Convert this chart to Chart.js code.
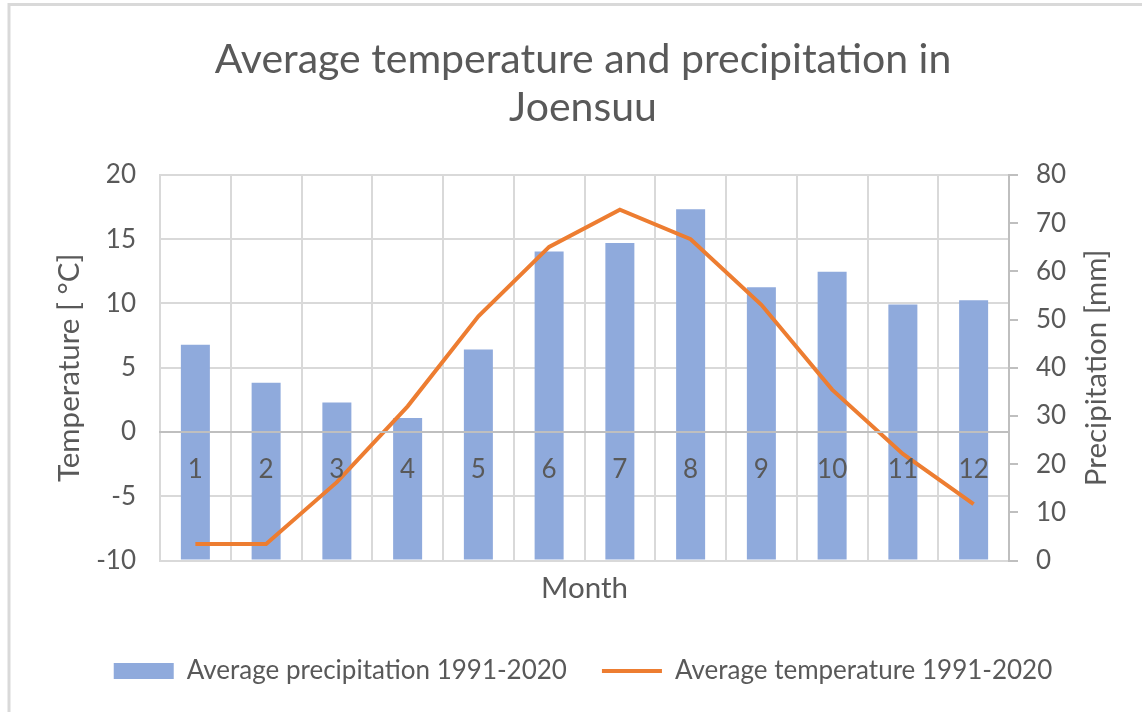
<!DOCTYPE html>
<html>
<head>
<meta charset="utf-8">
<script src="https://cdn.jsdelivr.net/npm/chart.js@4/dist/chart.umd.min.js"></script>
<style>
  html, body { margin: 0; padding: 0; background: #fff; }
  #wrap { width: 1142px; height: 712px; }
</style>
</head>
<body>
<div id="wrap"><canvas id="climateChart" width="1142" height="712"></canvas></div>
<script>
// --- data ---
const months = ['1', '2', '3', '4', '5', '6', '7', '8', '9', '10', '11', '12'];
const precipitation = [44.8, 36.9, 32.8, 29.6, 43.8, 64.1, 65.9, 72.9, 56.7, 59.9, 53.1, 54.0];
const temperature = [-8.7, -8.7, -3.9, 2.0, 9.0, 14.4, 17.3, 15.0, 9.9, 3.3, -1.7, -5.6];
const chartTitle = ['Average temperature and precipitation in', 'Joensuu'];
const precipLabel = 'Average precipitation 1991-2020';
const tempLabel = 'Average temperature 1991-2020';

const TEXT = '#595959';
const GRID = '#d9d9d9';
const AXIS = '#bfbfbf';
const BAR = '#8faadc';
const LINE = '#ed7d31';
const FONT = 'Lato';

// 흰 배경 + 바깥 테두리, 오른쪽 축 제목(아래->위 방향)
const framePlugin = {
    id: 'frame',
    beforeDraw(chart) {
        const ctx = chart.ctx;
        ctx.save();
        ctx.fillStyle = '#fff';
        ctx.fillRect(0, 0, chart.width, chart.height);
        ctx.strokeStyle = GRID;
        ctx.lineWidth = 3;
        ctx.beginPath();
        ctx.moveTo(9, chart.height);
        ctx.lineTo(9, 4.5);
        ctx.lineTo(chart.width, 4.5);
        ctx.stroke();
        ctx.restore();
    },
    afterDraw(chart) {
        const ctx = chart.ctx;
        const area = chart.chartArea;
        ctx.save();
        ctx.fillStyle = TEXT;
        ctx.font = '29.5px ' + FONT;
        ctx.textAlign = 'center';
        ctx.textBaseline = 'middle';
        ctx.translate(1096, (area.top + area.bottom) / 2);
        ctx.rotate(-Math.PI / 2);
        ctx.fillText('Precipitation [mm]', 0, 0);
        ctx.restore();
    }
};

const ctx = document.getElementById('climateChart').getContext('2d');
new Chart(ctx, {
    type: 'bar',
    data: {
        labels: months,
        datasets: [
            { label: precipLabel, data: precipitation, backgroundColor: BAR, yAxisID: 'yP', xAxisID: 'x',
              categoryPercentage: 1, barPercentage: 0.41, order: 2 },
            { label: tempLabel, data: temperature, type: 'line', borderColor: LINE, borderWidth: 4,
              pointRadius: 0, tension: 0, yAxisID: 'yT', xAxisID: 'x', order: 1 }
        ]
    },
    options: {
        responsive: false,
        animation: false,
        layout: { padding: { left: 24, right: 0, top: 0, bottom: 18 } },
        plugins: {
            tooltip: { enabled: false },
            title: {
                display: true, text: chartTitle, color: TEXT,
                font: { family: FONT, size: 41, weight: 'normal', lineHeight: 1.17 },
                padding: { top: 36, bottom: 43 }
            },
            legend: {
                position: 'bottom',
                labels: {
                    color: TEXT, font: { family: FONT, size: 26 }, padding: 35,
                    usePointStyle: true, pointStyleWidth: 60, boxHeight: 16,
                    generateLabels: () => [
                        { text: precipLabel, fillStyle: BAR, strokeStyle: BAR, lineWidth: 0, pointStyle: 'rect', datasetIndex: 0, fontColor: TEXT },
                        { text: tempLabel, fillStyle: LINE, strokeStyle: LINE, lineWidth: 4, pointStyle: 'line', datasetIndex: 1, fontColor: TEXT }
                    ]
                }
            }
        },
        scales: {
            // 월 라벨은 0℃ 선에 붙고, 막대 위에 그려짐
            x: {
                type: 'category',
                position: { yT: 0 },
                grid: { color: GRID, lineWidth: 2, offset: true, drawTicks: false },
                border: { color: AXIS, width: 2, z: 1 },
                ticks: { color: TEXT, font: { family: FONT, size: 26 }, padding: 22, z: 1 }
            },
            x2: {
                type: 'category',
                position: 'bottom',
                grid: { display: false, drawTicks: false },
                border: { display: false },
                ticks: { display: false },
                title: { display: true, text: 'Month', color: TEXT, font: { family: FONT, size: 29.5 }, padding: { top: 10, bottom: 17 } }
            },
            yT: {
                position: 'left',
                min: -10, max: 20,
                ticks: { stepSize: 5, color: TEXT, font: { family: FONT, size: 26 }, padding: 24 },
                grid: { color: GRID, lineWidth: 2, drawTicks: false },
                border: { color: GRID, width: 2 },
                title: { display: true, text: 'Temperature [ °C]', color: TEXT, font: { family: FONT, size: 29.5 }, padding: { top: 28, bottom: 0 } },
                afterFit(scale) { scale.width = 136; }
            },
            yP: {
                position: 'right',
                min: 0, max: 80,
                ticks: { stepSize: 10, color: TEXT, font: { family: FONT, size: 26 }, padding: 18 },
                grid: { drawOnChartArea: false, color: AXIS, lineWidth: 2, tickLength: 9 },
                border: { color: AXIS, width: 2 },
                afterFit(scale) { scale.width = 133; }
            }
        }
    },
    plugins: [framePlugin]
});
</script>
</body>
</html>
